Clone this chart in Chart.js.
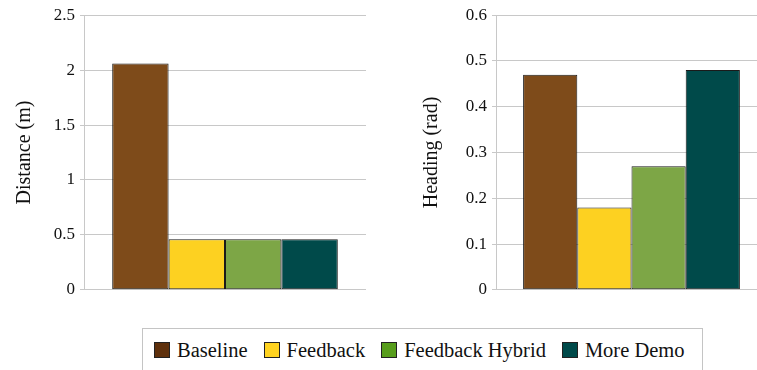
<!DOCTYPE html>
<html>
<head>
<meta charset="utf-8">
<script src="https://cdn.jsdelivr.net/npm/chart.js@4.4.1/dist/chart.umd.min.js"></script>
<style>
  html, body { margin: 0; padding: 0; background: #fff; overflow: hidden; width: 757px; height: 370px; }
  #wrap { position: relative; width: 757px; height: 370px; overflow: hidden; }
  #left { position: absolute; left: 0; top: 0; }
  #right { position: absolute; left: 380px; top: 0; }
  #legend {
    position: absolute; left: 142px; top: 328px; width: 561px; height: 60px;
    border: 1px solid #c4c4c4; box-sizing: border-box;
    font-family: "Liberation Serif", serif; font-size: 20.5px; color: #111;
    display: flex; align-items: flex-start; padding: 9px 0 0 11px;
    white-space: nowrap;
  }
  .item { display: flex; align-items: center; margin-right: 16px; line-height: 24px; flex-shrink: 0; }
  .item:last-child { margin-right: 0; }
  .sw { width: 14px; height: 14px; border: 1px solid #222; margin-right: 7px; flex-shrink: 0; }
</style>
</head>
<body>
<div id="wrap">
  <canvas id="left" width="380" height="305"></canvas>
  <canvas id="right" width="397" height="305"></canvas>
  <div id="legend"></div>
</div>
<script>
// series shown as bars, one group per chart
const seriesNames = ['Baseline', 'Feedback', 'Feedback Hybrid', 'More Demo'];
const distanceValues = [2.06, 0.46, 0.46, 0.46];
const headingValues = [0.47, 0.18, 0.27, 0.48];
const barColors = ['#7e4b1a', '#fdd121', '#7da646', '#004a4a'];
const legendColors = ['#5e300c', '#ffd320', '#579d1c', '#004a4a'];
const distanceTicks = { max: 2.5, step: 0.5 };
const headingTicks = { max: 0.6, step: 0.1 };

const serif = "'Liberation Serif', 'Times New Roman', serif";
const gridColor = '#c8c8c8';

function makeChart(id, values, ticks, title, axisWidth, titleOffset) {
    const ctx = document.getElementById(id).getContext('2d');
    return new Chart(ctx, {
        type: 'bar',
        data: {
            labels: [''],
            datasets: seriesNames.map((name, i) => ({
                label: name,
                data: [values[i]],
                backgroundColor: barColors[i],
                borderColor: '#1a1a1a',
                borderWidth: 1,
                borderSkipped: false,
                categoryPercentage: 0.8,
                barPercentage: 1.0
            }))
        },
        options: {
            responsive: false,
            animation: false,
            layout: { padding: { top: 13, bottom: 6, left: 0, right: id == 'left' ? 14 : 10 } },
            plugins: { legend: { display: false }, tooltip: { enabled: false } },
            scales: {
                x: { display: false },
                y: {
                    min: 0,
                    max: ticks.max,
                    ticks: {
                        stepSize: ticks.step,
                        color: '#111',
                        padding: 5,
                        font: { family: serif, size: 17 },
                        callback: (v) => String(Math.round(v * 10) / 10)
                    },
                    grid: { color: gridColor, tickLength: 4 },
                    border: { color: gridColor },
                    title: {
                        display: true,
                        text: title,
                        color: '#111',
                        font: { family: serif, size: 20 },
                        padding: { top: titleOffset, bottom: 4 }
                    },
                    afterFit: (scale) => { scale.width = axisWidth; }
                }
            }
        }
    });
}

makeChart('left', distanceValues, distanceTicks, 'Distance (m)', 84, 13);
makeChart('right', headingValues, headingTicks, 'Heading (rad)', 116, 40);

// legend shared by both charts
const legend = document.getElementById('legend');
seriesNames.forEach((name, i) => {
    const item = document.createElement('div');
    item.className = 'item';
    const sw = document.createElement('div');
    sw.className = 'sw';
    sw.style.background = legendColors[i];
    const txt = document.createElement('span');
    txt.textContent = name;
    item.appendChild(sw);
    item.appendChild(txt);
    legend.appendChild(item);
});
</script>
</body>
</html>
